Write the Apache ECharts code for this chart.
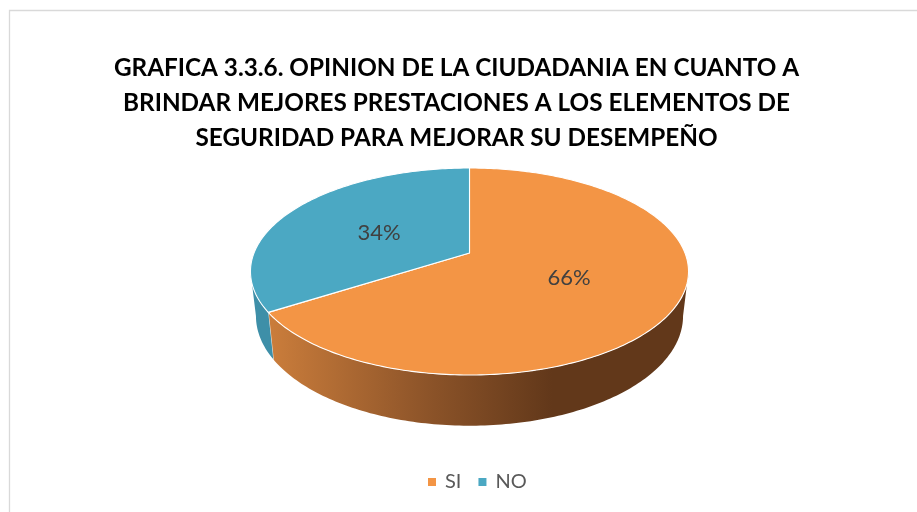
<!DOCTYPE html>
<html>
<head>
<meta charset="utf-8">
<style>
    html, body {margin: 0; padding: 0; background: #fff;}
    #main {width: 917px; height: 512px;}
</style>
<script src="https://cdn.jsdelivr.net/npm/echarts@6/dist/echarts.min.js"></script>
</head>
<body>
<div id="main"></div>
<script>
const titleLines = [
    'GRAFICA 3.3.6. OPINION DE LA CIUDADANIA EN CUANTO A',
    'BRINDAR MEJORES PRESTACIONES A LOS ELEMENTOS DE',
    'SEGURIDAD PARA MEJORAR SU DESEMPEÑO'
];
const categories = ['SI', 'NO'];
const values = [66, 34];

// no 3d pie in plain echarts, so the disc is projected by hand (perspective on a tilted circle)
const cx = 469.5, cy = 253;
const radiusX = 215.5, radiusY = 100.2, tilt = 0.1787;
// lower rim of the cylinder
const lowerScale = 0.975, lowerCy = 296.4, lowerScaleY = 1.06;

const total = values.reduce((a, b) => a + b, 0);
const edgeAngle = Math.acos(-tilt);

function topPoint(a, f) {
    const r = f === undefined ? 1 : f;
    const w = 1 + tilt * r * Math.cos(a);
    return [cx + radiusX * r * Math.sin(a) / w, cy - radiusY * r * Math.cos(a) / w];
}

function lowerPoint(a) {
    const w = 1 + tilt * Math.cos(a);
    return [cx + lowerScale * radiusX * Math.sin(a) / w, lowerCy - lowerScaleY * radiusY * Math.cos(a) / w];
}

function sample(a0, a1, fn) {
    const n = Math.max(2, Math.ceil(Math.abs(a1 - a0) * 60));
    const pts = [];
    for (let i = 0; i <= n; i++) {
        pts.push(fn(a0 + (a1 - a0) * i / n));
    }
    return pts;
}

const sideFills = [
    new echarts.graphic.LinearGradient(273, 0, 552, 0, [
        {offset: 0, color: '#C97C3B'},
        {offset: 0.55, color: '#8D5429'},
        {offset: 1, color: '#62381A'}
    ], true),
    '#3E8FA8'
];
const topFills = ['#F39545', '#4BA8C3'];
const labelNudge = [[1, -1], [0, 3]];

function renderSlice(params, api) {
    const idx = params.seriesIndex;
    const before = values.slice(0, idx).reduce((a, b) => a + b, 0);
    const a0 = before / total * Math.PI * 2;
    const a1 = (before + api.value(0)) / total * Math.PI * 2;
    const children = [];

    // visible part of the wall: only the front half of the rim
    const s0 = Math.max(a0, edgeAngle);
    const s1 = Math.min(a1, Math.PI * 2 - edgeAngle);
    if (s1 > s0) {
        const wall = sample(s0, s1, topPoint).concat(sample(s1, s0, lowerPoint));
        children.push({type: 'polygon', shape: {points: wall}, style: {fill: sideFills[idx]}});
        if (a1 < Math.PI * 2 - edgeAngle) {
            children.push({
                type: 'line',
                shape: {x1: topPoint(a1)[0], y1: topPoint(a1)[1], x2: lowerPoint(a1)[0], y2: lowerPoint(a1)[1]},
                style: {stroke: 'rgba(255,255,255,0.75)', lineWidth: 1}
            });
        }
    }

    const face = [[cx, cy]].concat(sample(a0, a1, topPoint));
    children.push({
        type: 'polygon',
        shape: {points: face},
        style: {fill: topFills[idx], stroke: '#fff', lineWidth: 1.1, lineJoin: 'round'},
        z2: 2
    });

    const mid = topPoint((a0 + a1) / 2, 0.5);
    children.push({
        type: 'text',
        z2: 3,
        style: {
            x: mid[0] + labelNudge[idx][0],
            y: mid[1] + 0.5 + labelNudge[idx][1],
            text: api.value(0) + '%',
            fill: '#404040',
            font: '22px Lato',
            align: 'center',
            verticalAlign: 'middle'
        }
    });
    return {type: 'group', children: children};
}

const chart = echarts.init(document.getElementById('main'), null, {renderer: 'canvas'});
chart.setOption({
    animation: false,
    backgroundColor: '#fff',
    color: topFills,
    title: {
        text: titleLines.join('\n'),
        left: 451.5,
        top: 46,
        textAlign: 'center',
        textStyle: {
            fontFamily: 'Lato',
            fontWeight: 'bold',
            fontSize: 24.3,
            lineHeight: 35,
            color: '#000'
        }
    },
    legend: {
        data: categories,
        left: 423,
        top: 467,
        icon: 'rect',
        itemWidth: 8,
        itemHeight: 8,
        itemGap: 17,
        textStyle: {fontFamily: 'Lato', fontSize: 20, color: '#595959', padding: [0, 0, 0, 4]}
    },
    graphic: [{
        type: 'polyline',
        shape: {points: [[9.5, 512], [9.5, 10.5], [917, 10.5]]},
        style: {stroke: '#D9D9D9', lineWidth: 1.3, fill: null}
    }],
    series: categories.map((name, i) => ({
        type: 'custom',
        name: name,
        coordinateSystem: 'none',
        renderItem: renderSlice,
        data: [[values[i]]]
    }))
});
</script>
</body>
</html>
